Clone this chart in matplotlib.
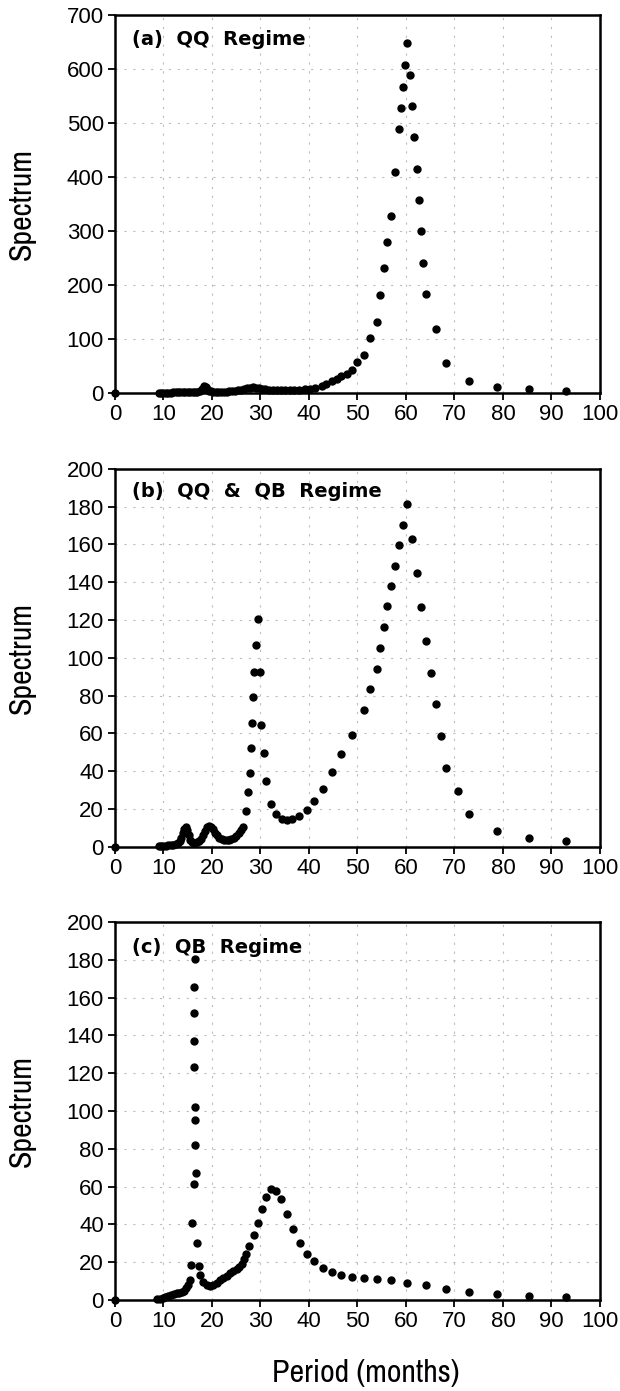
import matplotlib
matplotlib.use("Agg")
import matplotlib.pyplot as plt
from matplotlib.ticker import MultipleLocator
from matplotlib import font_manager

# Panel (a): QQ regime
a_x = [0.0,
       9.0, 9.5, 10.0, 10.5, 11.0, 11.5, 12.0, 12.5, 13.0, 13.5, 14.0, 14.5, 15.0, 15.5, 16.0, 16.5, 17.0, 17.5, 18.0,
       18.4, 18.7, 19.0, 19.4, 19.8, 20.3, 20.8, 21.3, 21.8,
       22.4, 23.0, 23.6, 24.2, 24.8, 25.4, 26.0, 26.6, 27.2, 27.8, 28.4, 29.0, 29.6,
       30.3, 31.0, 31.8, 32.6, 33.4, 34.2, 35.1, 36.0, 37.0, 38.0, 39.1, 40.2, 41.2,
       42.6, 43.6, 44.7, 45.7, 46.7, 47.8, 48.9, 50.0, 51.3, 52.6,
       53.95, 54.7, 55.5, 56.2, 56.9, 57.7, 58.6, 59.0, 59.45, 59.9,
       60.3, 60.8, 61.2, 61.65, 62.2, 62.7, 63.1, 63.5, 64.1, 66.2,
       68.3, 73.1, 78.8, 85.4, 93.1]
a_y = [0.0,
       0.5, 0.5, 0.6, 0.6, 0.7, 0.8, 0.9, 1.0, 1.2, 1.4, 1.6, 1.8, 1.6, 1.4, 1.5, 2.0, 2.5, 4.0, 8.0,
       12.0, 11.0, 7.0, 4.0, 3.0, 2.5, 2.2, 2.0, 2.0,
       2.2, 2.5, 3.0, 3.5, 4.0, 5.0, 6.0, 7.5, 9.0, 10.0, 10.5, 10.0, 9.0,
       8.0, 6.5, 5.5, 5.0, 4.8, 4.8, 5.0, 5.2, 5.6, 6.0, 6.5, 7.5, 9.3,
       12.3, 17.3, 21.6, 25.9, 30.8, 35.8, 43.2, 56.8, 70.3, 101.2,
       132.0, 181.4, 230.7, 279.5, 328.2, 408.4, 488.6, 527.4, 567.5, 607.6,
       647.7, 589.0, 531.8, 473.8, 415.2, 357.8, 299.8, 241.2, 183.8, 119.0,
       55.5, 22.8, 11.7, 6.8, 4.3]

# Panel (b): QQ & QB regime
b_x = [0.0,
       9.0, 9.5, 10.0, 10.5, 11.0, 11.5, 12.0, 12.5, 13.0,
       13.4, 13.7, 14.0, 14.3, 14.6, 14.9, 15.2, 15.5, 15.8,
       16.2, 16.6, 17.0, 17.4, 17.8, 18.2, 18.6, 19.0, 19.4, 19.8,
       20.2, 20.6, 21.0,
       21.5, 22.0, 22.5, 23.0, 23.5, 24.0, 24.5, 25.0, 25.5, 26.0,
       26.5, 27.0, 27.5, 27.8, 27.97, 28.2, 28.4, 28.6, 29.0, 29.4,
       29.9, 30.2, 30.65, 31.1, 32.2, 33.2, 34.4, 35.5, 36.6, 38.0,
       39.5, 41.1, 42.8, 44.7, 46.7, 48.9, 51.3, 52.6, 53.95, 54.7,
       55.5, 56.2, 56.9, 57.7, 58.6, 59.45, 60.3, 61.2, 62.2, 63.1,
       64.1, 65.2, 66.2, 67.2, 68.3, 70.8, 73.1, 78.8, 85.4, 93.1]
b_y = [0.0,
       0.3, 0.4, 0.5, 0.6, 0.7, 0.9, 1.1, 1.4, 1.9,
       2.8, 4.5, 7.0, 9.5, 10.5, 9.0, 6.0, 3.8, 2.6,
       2.0, 2.0, 2.3, 3.0, 4.2, 6.0, 8.5, 10.3, 11.0, 10.6,
       9.2, 7.5, 6.0,
       4.8, 4.0, 3.5, 3.4, 3.5, 3.9, 4.6, 5.6, 7.0, 9.0,
       10.6, 18.7, 28.8, 39.0, 52.3, 65.7, 79.1, 92.7, 106.6, 120.6,
       92.7, 64.6, 49.8, 34.8, 22.8, 17.3, 14.8, 14.1, 14.7, 16.4,
       19.4, 24.0, 30.7, 39.4, 49.1, 59.3, 72.2, 83.3, 94.3, 105.2,
       116.2, 127.3, 138.2, 148.8, 159.6, 170.3, 181.3, 162.9, 145.1, 127.1,
       109.1, 92.1, 75.6, 58.6, 41.7, 29.5, 17.5, 8.5, 4.8, 2.8]

# Panel (c): QB regime
c_x = [0.0, 8.6, 9.2, 9.8, 10.4, 11.0, 11.6, 12.2, 12.8, 13.3, 13.8, 14.2, 14.6, 15.0, 15.5,
       15.6, 15.9, 16.2, 16.7, 16.55, 16.6, 16.4, 16.35, 16.3, 16.35, 16.35, 16.4,
       17.0, 17.3, 17.5, 18.2, 18.9, 19.5, 20.2, 21.0, 21.6, 22.3, 23.0, 23.7, 24.4, 25.1,
       25.6, 26.1, 26.6, 27.1, 27.7, 28.6, 29.4, 30.3, 31.1, 32.1, 33.2, 34.3, 35.5, 36.8,
       38.1, 39.5, 41.1, 42.8, 44.7, 46.7, 48.9, 51.3, 53.95, 56.9, 60.3, 64.1, 68.3, 73.1,
       78.8, 85.4, 93.1]
c_y = [0.0, 0.4, 0.8, 1.2, 1.7, 2.1, 2.6, 3.0, 3.5, 3.9, 4.3, 5.0, 6.2, 8.0, 10.8,
       18.4, 41.0, 61.4, 67.1, 82.1, 95.3, 102.4, 123.2, 137.3, 151.8, 165.9, 180.4,
       30.2, 18.0, 13.0, 9.7, 7.9, 7.6, 7.9, 9.2, 10.4, 11.5, 12.8, 14.1, 15.2, 16.5,
       17.3, 19.0, 21.5, 24.3, 28.6, 34.4, 41.0, 48.2, 54.7, 58.6, 57.9, 53.3, 45.7, 37.4,
       30.4, 24.5, 20.7, 17.1, 14.8, 13.2, 12.4, 11.7, 11.1, 10.4, 9.0, 7.8, 6.0, 4.2,
       3.2, 2.1, 1.8]

panels = [
    ("(a)  QQ  Regime", a_x, a_y, 700, 100, 0.7175, 0.934),
    ("(b)  QQ  &  QB  Regime", b_x, b_y, 200, 20, 0.3913, 0.939),
    ("(c)  QB  Regime", c_x, c_y, 200, 20, 0.0654, 0.932),
]

plt.rcParams['font.family'] = ['Liberation Sans', 'DejaVu Sans']

# regular-weight condensed face for the axis labels, if one is installed
cond = [f for f in font_manager.fontManager.ttflist
        if f.weight in (400, 'normal', 'regular') and f.style == 'normal'
        and ('Narrow' in f.name or f.stretch in ('condensed', 'semi-condensed')
             or 'Condensed' in f.fname)]
cond.sort(key=lambda f: 'Narrow' not in f.name)
if cond:
    size = 23 if 'Narrow' in cond[0].name else 19.5
    lab_font = dict(fontproperties=font_manager.FontProperties(fname=cond[0].fname, size=size))
else:
    lab_font = dict(fontsize=19)

fig = plt.figure(figsize=(6.2, 13.91), dpi=100)

for title, xs, ys, ymax, ystep, bottom, ty in panels:
    ax = fig.add_axes([0.1855, bottom, 0.782, 0.2717])
    ax.plot(xs, ys, 'o', ms=5, color='black', clip_on=False, zorder=4)
    ax.set_xlim(0, 100)
    ax.set_ylim(0, ymax)
    ax.xaxis.set_major_locator(MultipleLocator(10))
    ax.yaxis.set_major_locator(MultipleLocator(ystep))
    ax.grid(True, color='#bdbdbd', linestyle=(0, (2, 6)), linewidth=0.8)
    ax.tick_params(direction='out', length=5, width=1.3, labelsize=16, pad=3,
                   top=False, right=False)
    for s in ax.spines.values():
        s.set_linewidth(1.8)
    ax.text(0.035, ty, title, transform=ax.transAxes, fontsize=14,
            fontweight='bold', family='DejaVu Sans', ha='left', va='center')
    ax.set_ylabel('Spectrum', va='center', **lab_font)
    ax.yaxis.set_label_coords(-0.192, 0.5)

ax.set_xlabel('Period (months)', va='center', **lab_font)
ax.xaxis.set_label_coords(0.5175, -0.193)

fig.savefig("out.png", dpi=100)
